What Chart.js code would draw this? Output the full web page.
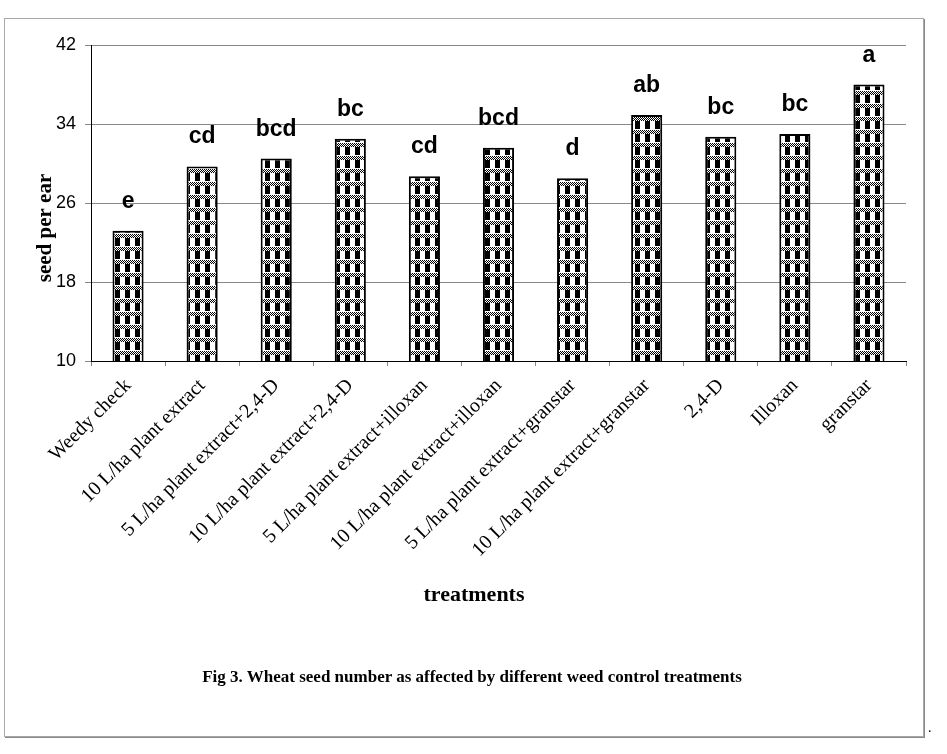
<!DOCTYPE html>
<html>
<head>
<meta charset="utf-8">
<script src="https://cdn.jsdelivr.net/npm/chart.js@4.4.1/dist/chart.umd.min.js"></script>
<style>
    html, body { margin: 0; padding: 0; background: #fff; }
    #wrap { position: relative; width: 947px; height: 754px; }
    #frame { position: absolute; left: 4px; top: 18px; width: 918px; height: 717px; border: 1px solid #a8a8a8; box-shadow: 1px 1px 0 #8a8a8a; }
    #chartBox { position: absolute; left: 0; top: 0; width: 947px; height: 754px; }
    #caption { position: absolute; left: 0; width: 944px; top: 667px; text-align: center; font: bold 17px "Liberation Serif", "Times New Roman", serif; color: #000; }
    #dot { position: absolute; left: 928px; top: 720px; font: 14px "Liberation Serif", serif; }
</style>
</head>
<body>
<div id="wrap">
    <div id="frame"></div>
    <div id="chartBox"><canvas id="seedChart"></canvas></div>
    <div id="caption">Fig 3. Wheat seed number as affected by different weed control treatments</div>
    <div id="dot">.</div>
</div>
<script>
// dados
const treatments = [
    'Weedy check',
    '10 L/ha plant extract',
    '5 L/ha plant extract+2,4-D',
    '10 L/ha plant extract+2,4-D',
    '5 L/ha plant extract+illoxan',
    '10 L/ha plant extract+illoxan',
    '5 L/ha plant extract+granstar',
    '10 L/ha plant extract+granstar',
    '2,4-D',
    'Illoxan',
    'granstar'
];
const seedPerEar = [23.2, 29.7, 30.5, 32.5, 28.7, 31.6, 28.5, 34.9, 32.7, 33.0, 38.0];
const groupLetters = ['e', 'cd', 'bcd', 'bc', 'cd', 'bcd', 'd', 'ab', 'bc', 'bc', 'a'];
const yTicks = [10, 18, 26, 34, 42];

(function() {
    // padrao xadrez das barras
    function makePattern() {
        const c = document.createElement('canvas');
        c.width = 10;
        c.height = 13;
        const g = c.getContext('2d');
        g.fillStyle = '#fff';
        g.fillRect(0, 0, 10, 13);
        g.fillStyle = '#000';
        // faixa pontilhada
        for (let y = 0; y < 4; y++) {
            for (let x = 0; x < 10; x++) {
                if ((x + y) % 2 === 0) g.fillRect(x, y, 1, 1);
            }
        }
        // blocos pretos
        g.fillRect(5, 4, 5, 8);
        return g.createPattern(c, 'repeat');
    }

    const labelsPlugin = {
        id: 'labelsPlugin',
        afterDatasetsDraw(chart) {
            const ctx = chart.ctx;
            const meta = chart.getDatasetMeta(0);
            ctx.save();
            ctx.fillStyle = '#000';
            ctx.textAlign = 'center';
            ctx.textBaseline = 'alphabetic';
            ctx.font = 'bold 23px "Liberation Sans", Arial, sans-serif';
            meta.data.forEach((bar, i) => {
                ctx.fillText(groupLetters[i], bar.x, bar.y - 23);
            });
            // titulos dos eixos
            ctx.font = 'bold 22px "Liberation Serif", "Times New Roman", serif';
            ctx.fillText('treatments', 474, 601);
            ctx.translate(51, 228);
            ctx.rotate(-Math.PI / 2);
            ctx.font = 'bold 21px "Liberation Serif", "Times New Roman", serif';
            ctx.fillText('seed per ear', 0, 0);
            ctx.restore();
        }
    };

    const ctx = document.getElementById('seedChart');
    new Chart(ctx, {
        type: 'bar',
        data: {
            labels: treatments,
            datasets: [{
                data: seedPerEar,
                backgroundColor: makePattern(),
                borderColor: '#000',
                borderWidth: 2,
                borderSkipped: false,
                categoryPercentage: 1,
                barPercentage: 0.42
            }]
        },
        options: {
            responsive: true,
            maintainAspectRatio: false,
            animation: false,
            layout: { padding: { top: 45, right: 41, left: 0, bottom: 0 } },
            plugins: {
                legend: { display: false },
                tooltip: { enabled: false }
            },
            scales: {
                x: {
                    offset: true,
                    grid: { display: true, drawOnChartArea: false, drawTicks: true, tickLength: 5, color: '#888' },
                    border: { color: '#000', width: 1 },
                    ticks: {
                        autoSkip: false,
                        maxRotation: 45,
                        minRotation: 45,
                        padding: 8,
                        color: '#000',
                        font: { family: '"Liberation Serif", "Times New Roman", serif', size: 20 }
                    },
                    afterFit: (scale) => { scale.height = 393; }
                },
                y: {
                    min: 10,
                    max: 42,
                    afterBuildTicks: (scale) => { scale.ticks = yTicks.map(v => ({ value: v })); },
                    grid: { color: '#888', tickLength: 6 },
                    border: { color: '#000', width: 1 },
                    ticks: {
                        padding: 9,
                        color: '#000',
                        font: { family: '"Liberation Sans", Arial, sans-serif', size: 18 }
                    },
                    afterFit: (scale) => { scale.width = 91; }
                }
            }
        },
        plugins: [labelsPlugin]
    });
})();
</script>
</body>
</html>
